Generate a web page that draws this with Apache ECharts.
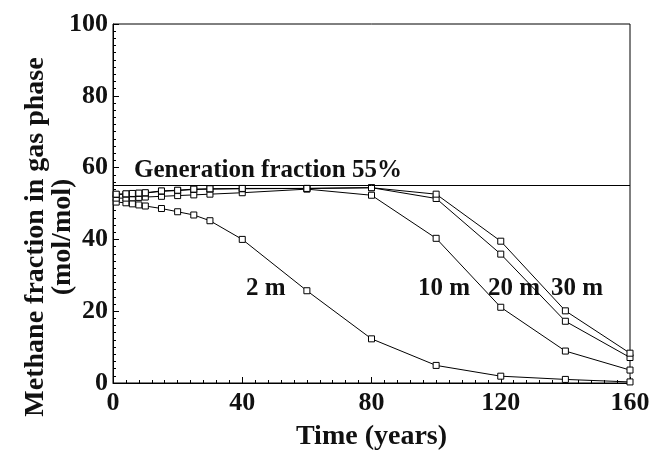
<!DOCTYPE html>
<html>
<head>
<meta charset="utf-8">
<script src="https://cdn.jsdelivr.net/npm/echarts@6/dist/echarts.min.js"></script>
<style>
  html, body { margin: 0; padding: 0; background: #fff; }
  #chart { width: 665px; height: 456px; }
</style>
</head>
<body>
<div id="chart"></div>
<script>
// time (years)
const years = [1, 4, 6, 8, 10, 15, 20, 25, 30, 40, 60, 80, 100, 120, 140, 160];
// methane fraction (mol/mol, %) per depth
const depth2m = [50.4, 50.2, 49.9, 49.6, 49.3, 48.6, 47.7, 46.8, 45.2, 40.0, 25.7, 12.3, 4.9, 1.9, 1.0, 0.3];
const depth10m = [51.5, 51.5, 51.6, 51.7, 51.8, 52.0, 52.2, 52.4, 52.6, 53.0, 54.0, 52.3, 40.3, 21.1, 8.9, 3.6];
const depth20m = [52.5, 52.6, 52.7, 52.8, 52.9, 53.4, 53.6, 53.9, 54.0, 54.1, 54.2, 54.4, 51.4, 35.9, 17.2, 7.1];
const depth30m = [52.6, 52.7, 52.8, 52.9, 53.0, 53.5, 53.7, 54.0, 54.1, 54.2, 54.2, 54.4, 52.6, 39.5, 20.1, 8.3];
const generationFraction = 55;

const FONT = 'Liberation Serif';

const chart = echarts.init(document.getElementById('chart'));

const mkSeries = (name, vals) => ({
  name,
  type: 'line',
  data: years.map((x, i) => [x, vals[i]]),
  symbol: 'rect',
  symbolSize: 6,
  showAllSymbol: true,
  lineStyle: { color: '#000', width: 1 },
  itemStyle: { color: '#fff', borderColor: '#000', borderWidth: 1 },
  animation: false,
  z: 3,
});

const series = [
  mkSeries('2 m', depth2m),
  mkSeries('10 m', depth10m),
  mkSeries('20 m', depth20m),
  mkSeries('30 m', depth30m),
];

// generation fraction reference line
series[0].markLine = {
  silent: true,
  symbol: 'none',
  lineStyle: { color: '#000', width: 1, type: 'solid' },
  label: { show: false },
  data: [{ yAxis: generationFraction }],
};

const textStyle = { fontFamily: FONT, fontWeight: 'bold', fill: '#111', fontSize: 25 };
const txt = (text, left, top) => ({
  type: 'text', left, top, style: Object.assign({ text }, textStyle),
});

chart.setOption({
  backgroundColor: '#fff',
  animation: false,
  grid: {
    left: 113, right: 35, top: 24, bottom: 62,
    show: true, borderColor: '#000', borderWidth: 1,
  },
  xAxis: {
    type: 'value',
    min: 0, max: 160, interval: 40,
    name: 'Time (years)',
    nameLocation: 'middle',
    nameGap: 40,
    nameTextStyle: { fontFamily: FONT, fontWeight: 'bold', fontSize: 28, color: '#111' },
    axisLine: { lineStyle: { color: '#000', width: 1 } },
    axisTick: { inside: true, length: 6, lineStyle: { color: '#000' } },
    minorTick: { show: true, splitNumber: 10, length: 3, lineStyle: { color: '#000' } },
    axisLabel: { fontFamily: FONT, fontWeight: 'bold', fontSize: 26, color: '#111', margin: 7 },
    splitLine: { show: false },
  },
  yAxis: {
    type: 'value',
    min: 0, max: 100, interval: 20,
    axisLine: { lineStyle: { color: '#000', width: 1 } },
    axisTick: { inside: true, length: 6, lineStyle: { color: '#000' } },
    minorTick: { show: true, splitNumber: 10, length: 3, lineStyle: { color: '#000' } },
    axisLabel: { fontFamily: FONT, fontWeight: 'bold', fontSize: 26, color: '#111', margin: 5 },
    splitLine: { show: false },
  },
  graphic: [
    {
      type: 'text', x: 49, y: 237, rotation: Math.PI / 2,
      style: {
        text: 'Methane fraction in gas phase\n(mol/mol)',
        fontFamily: FONT, fontWeight: 'bold', fontSize: 28, fill: '#111',
        lineHeight: 27, align: 'center', verticalAlign: 'middle',
      },
    },
    txt('Generation fraction 55%', 134, 158),
    txt('2 m', 246, 276),
    txt('10 m', 418, 276),
    txt('20 m', 488, 276),
    txt('30 m', 551, 276),
  ],
  series,
});
</script>
</body>
</html>
